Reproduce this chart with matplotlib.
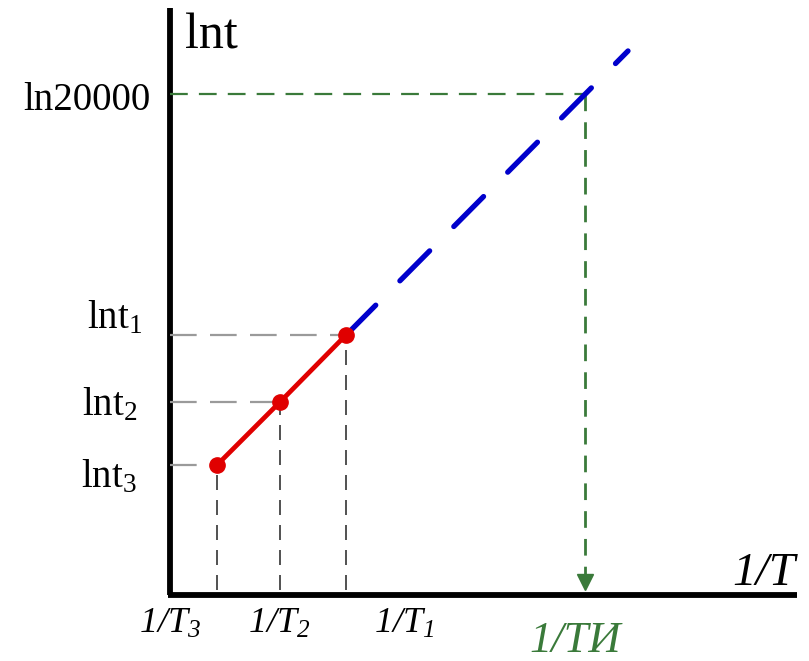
import numpy as np
import matplotlib
matplotlib.use("Agg")
import matplotlib.pyplot as plt

plt.rcParams['font.family'] = ['Liberation Serif', 'DejaVu Serif']
plt.rcParams['mathtext.fontset'] = 'custom'
plt.rcParams['mathtext.rm'] = 'Liberation Serif'
plt.rcParams['mathtext.it'] = 'Liberation Serif:italic'
# sf slot used for fully italic labels (digits included)
plt.rcParams['mathtext.sf'] = 'Liberation Serif:italic'

# measured points: 1/T and ln t (arbitrary units)
inv_T = [0.47, 1.10, 1.76]
ln_t = [1.30, 1.93, 2.60]
ln_target = 5.01          # ln20000
x_extrap_end = 4.58       # where the dashed extrapolation stops

y_labels = [r'$\mathrm{lnt}_3$', r'$\mathrm{lnt}_2$', r'$\mathrm{lnt}_1$']
x_labels = [r'$\mathsf{1/T_3}$', r'$\mathsf{1/T_2}$', r'$\mathsf{1/T_1}$']

RED = '#e00000'
BLUE = '#0000cc'
GREEN = '#3a7a3a'
GREY = '#9a9a9a'

# linear fit for extrapolation
slope, icpt = np.polyfit(inv_T, ln_t, 1)
x_target = (ln_target - icpt) / slope

fig = plt.figure(figsize=(8.09, 6.61), dpi=100)
ax = fig.add_axes([0, 0, 1, 1])
ax.set_xlim(-1.70, 6.39)
ax.set_ylim(-0.66, 5.95)
ax.axis('off')

# axes lines
ax.plot([0, 0], [0, 5.87], color='black', lw=4.2, solid_capstyle='butt')
ax.plot([-0.02, 6.27], [0, 0], color='black', lw=4.2, solid_capstyle='butt')

# guide lines to the points
for x, y in zip(inv_T, ln_t):
    ax.plot([0, x], [y, y], color=GREY, lw=1.6, dashes=(12, 6))
    ax.plot([x, x], [0.05, y], color='#333333', lw=1.2, dashes=(9, 6))

# extrapolation
xe = np.array([inv_T[-1], x_extrap_end])
ax.plot(xe, slope * xe + icpt, color=BLUE, lw=3.8, dashes=(8.0, 6.5),
        dash_capstyle='round', zorder=3)

# target lines
ax.plot([0, x_target], [ln_target, ln_target], color=GREEN, lw=1.6, dashes=(8, 5))
ax.plot([x_target, x_target], [ln_target, 0.2], color=GREEN, lw=2.0, dashes=(6, 4))
ax.plot([x_target], [0.13], marker='v', color=GREEN, markersize=12, zorder=4)

# measured segment
ax.plot(inv_T, ln_t, color=RED, lw=3.4, marker='o', markersize=11, zorder=4)

# text
ax.text(0.15, 5.47, 'lnt', fontsize=36, ha='left', va='baseline')
ax.text(-0.20, 4.85, 'ln20000', fontsize=28, ha='right', va='baseline')
label_y = [1.08, 1.80, 2.67]
label_x = [-0.33, -0.33, -0.28]
for lx, ly, s in zip(label_x, label_y, y_labels):
    ax.text(lx, ly, s, fontsize=28, ha='right', va='baseline')

tick_x = [0.0, 1.09, 2.34]
for tx, s in zip(tick_x, x_labels):
    ax.text(tx, -0.38, s, fontsize=26, ha='center', va='baseline')

ax.text(6.25, 0.10, '1/T', fontsize=34, style='italic', ha='right', va='baseline')
ax.text(4.05, -0.57, '1/TИ', fontsize=32, style='italic', color=GREEN,
        ha='center', va='baseline')

fig.savefig('out.png', dpi=100)
